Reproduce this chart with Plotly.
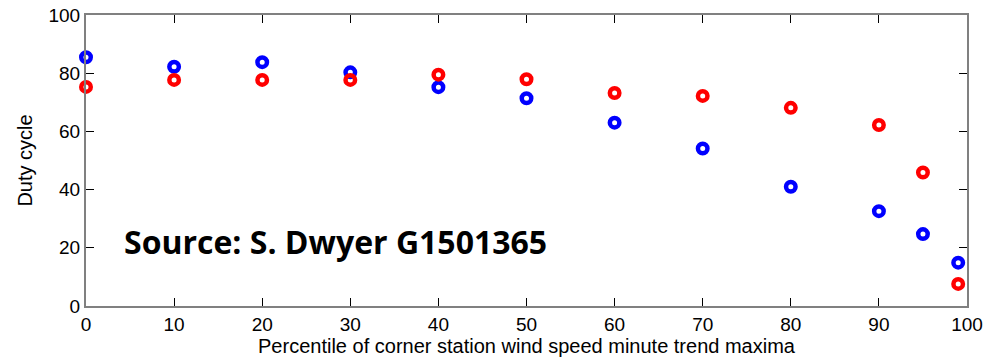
import plotly.graph_objects as go

x_blue = [0, 10, 20, 30, 40, 50, 60, 70, 80, 90, 95, 99]
y_blue = [85.5, 82.2, 83.8, 80.3, 75.2, 71.4, 63.0, 54.1, 41.0, 32.6, 24.7, 14.9]
x_red = [0, 10, 20, 30, 40, 50, 60, 70, 80, 90, 95, 99]
y_red = [75.3, 77.7, 77.7, 77.7, 79.5, 77.9, 73.2, 72.2, 68.1, 62.2, 45.9, 7.6]
x_ticks = [0, 10, 20, 30, 40, 50, 60, 70, 80, 90, 100]
y_ticks = [0, 20, 40, 60, 80, 100]

fig = go.Figure()
fig.add_trace(go.Scatter(x=x_blue, y=y_blue, mode="markers",
                         marker=dict(symbol="circle-open", size=9.5, color="#0000ff",
                                     line=dict(width=4.5, color="#0000ff")),
                         showlegend=False, cliponaxis=False))
fig.add_trace(go.Scatter(x=x_red, y=y_red, mode="markers",
                         marker=dict(symbol="circle-open", size=9.5, color="#ff0000",
                                     line=dict(width=4.5, color="#ff0000")),
                         showlegend=False, cliponaxis=False))

axis_common = dict(showgrid=False, zeroline=False, showline=True, linecolor="#808080",
                   linewidth=2, mirror="ticks", ticks="inside", ticklen=8, tickcolor="#000000",
                   tickwidth=1, automargin=False,
                   tickfont=dict(family="Liberation Sans, Arial", size=19, color="#000"))

fig.update_xaxes(range=[0, 100], tickvals=x_ticks, ticktext=[str(v) for v in x_ticks],
                 title=dict(text="Percentile of corner station wind speed minute trend maxima",
                            font=dict(family="Liberation Sans, Arial", size=20, color="#000"),
                            standoff=4),
                 **axis_common)
fig.update_yaxes(range=[0, 100], tickvals=y_ticks, ticktext=[str(v) for v in y_ticks],
                 title=dict(text="Duty cycle",
                            font=dict(family="Liberation Sans, Arial", size=20, color="#000"),
                            standoff=10),
                 **axis_common)

fig.add_annotation(x=4.1, y=22, xref="x", yref="y", text="<b>Source: S. Dwyer G1501365</b>",
                   showarrow=False, xanchor="left", yanchor="middle",
                   font=dict(family="Open Sans", size=32, color="#000"))

fig.update_layout(width=1000, height=361, margin=dict(l=86, r=33, t=15, b=55),
                  plot_bgcolor="white", paper_bgcolor="white")

fig.write_html("out.html")
